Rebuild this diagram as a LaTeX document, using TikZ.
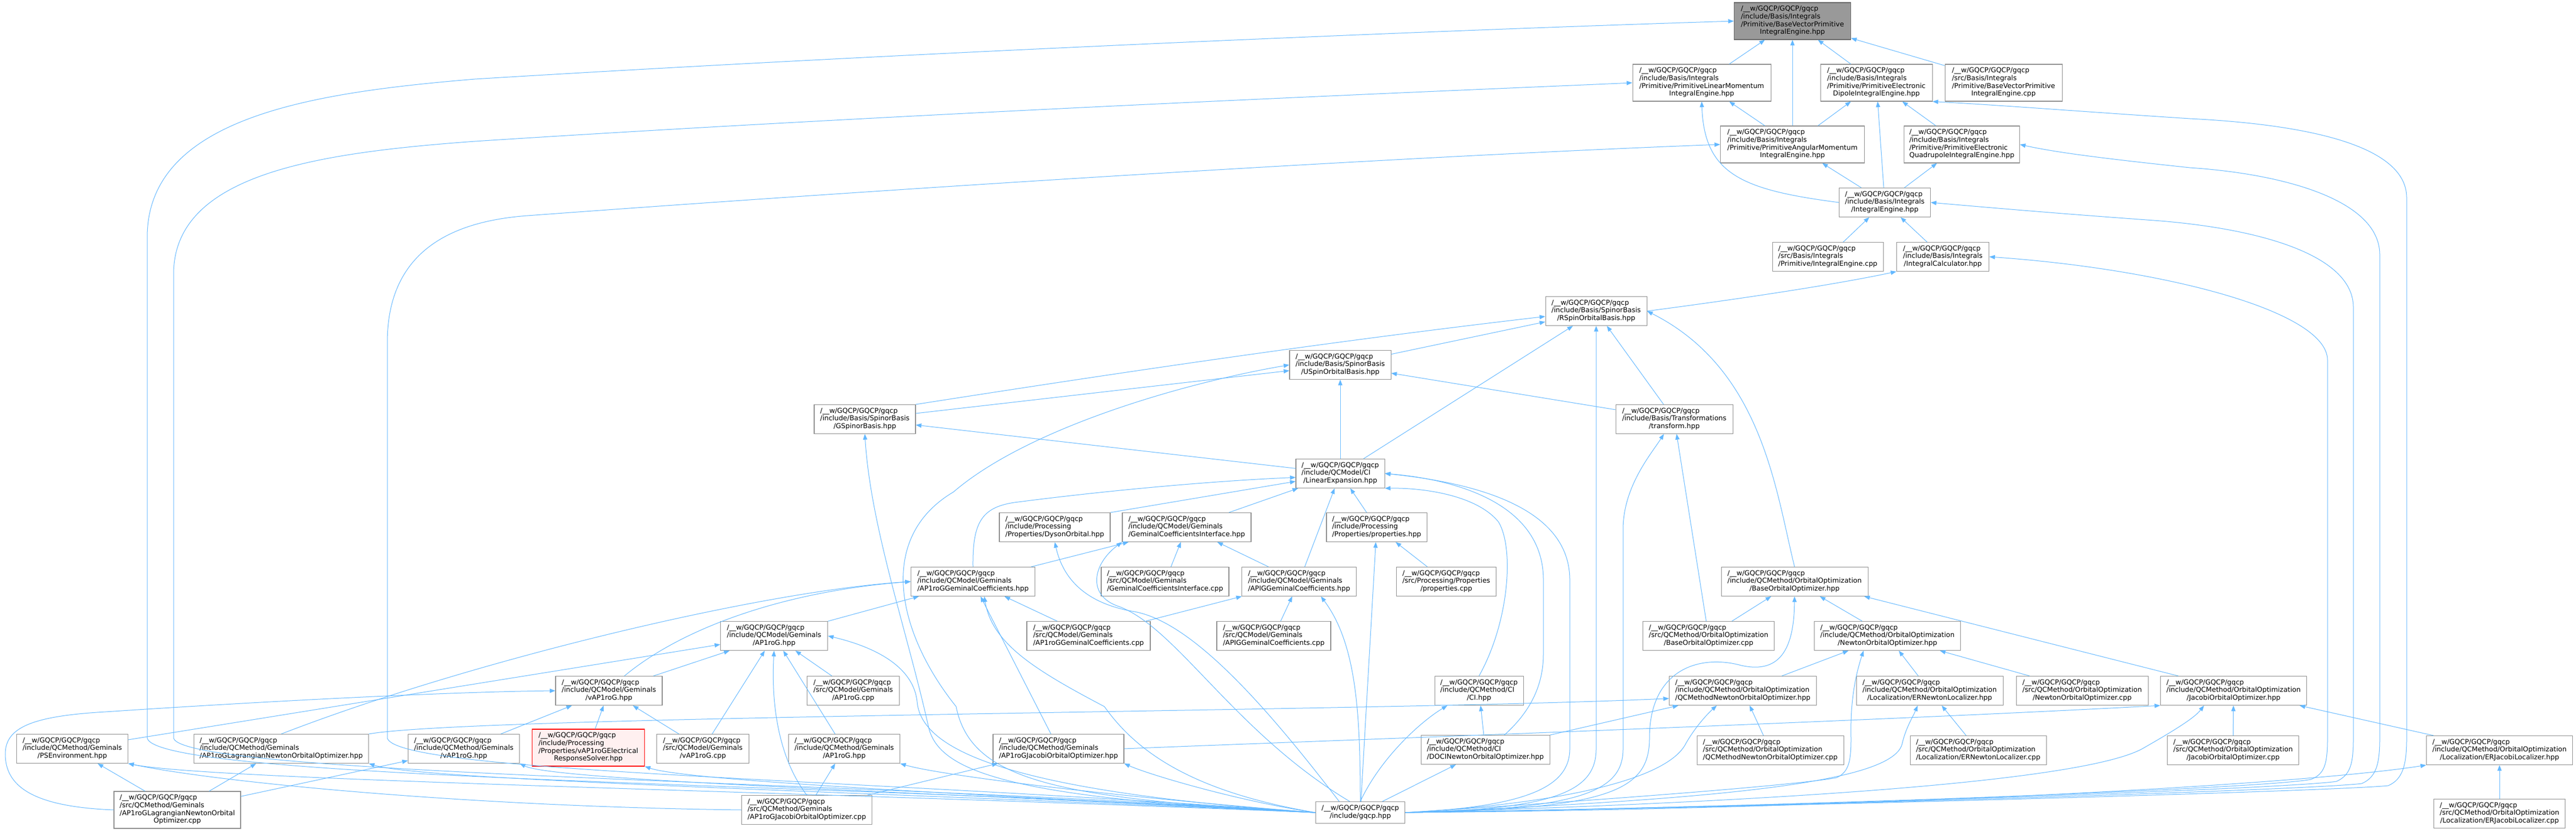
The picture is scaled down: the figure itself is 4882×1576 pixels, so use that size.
\documentclass[tikz,border=0pt]{standalone}
\usepackage{fontspec}
\setmainfont{DejaVu Sans}
\usetikzlibrary{arrows.meta}
\definecolor{edgeblue}{HTML}{63B8FF}
\definecolor{boxline}{HTML}{8C8C8C}
\definecolor{hitfill}{HTML}{999999}
\definecolor{hitline}{HTML}{666666}
\definecolor{hotline}{HTML}{FF0000}
\definecolor{hotfill}{HTML}{FFF0F0}
\newcommand{\gqp}{/\_\_w/GQCP/GQCP/gqcp}
\newcommand{\flab}[2]{\begin{tabular}{@{}l@{}}#1\\\multicolumn{1}{@{}c@{}}{#2}\end{tabular}}
\tikzset{
    fbox/.style={draw=boxline, line width=0.8pt, fill=white, inner xsep=3pt, inner ysep=1pt, minimum height=41.25pt, font=\fontsize{9.7}{11}\selectfont},
    fourline/.style={minimum height=52.5pt},
    twoline/.style={minimum height=30.75pt},
    boxw/.style={minimum width=#1*0.75pt},
    hitbox/.style={fill=hitfill, draw=hitline},
    hotbox/.style={fill=hotfill, draw=hotline},
    inc/.style={draw=edgeblue, line width=0.75pt, -{Triangle[length=8pt,width=6pt]}}
}
\begin{document}
\begin{tikzpicture}[x=0.75pt, y=-0.75pt]
        \fill[white] (0,0) rectangle (4882,1576);
        \useasboundingbox (0,0) rectangle (4882,1576);

        \node[fbox, boxw=221, fourline, hitbox] (nBaseVec) at (3397,40) {\flab{\gqp\\/include/Basis/Integrals\\/Primitive/BaseVectorPrimitive}{IntegralEngine.hpp}};
        \node[fbox, boxw=262, fourline] (nLinMom) at (3225,157) {\flab{\gqp\\/include/Basis/Integrals\\/Primitive/PrimitiveLinearMomentum}{IntegralEngine.hpp}};
        \node[fbox, boxw=212, fourline] (nDipole) at (3556,157) {\flab{\gqp\\/include/Basis/Integrals\\/Primitive/PrimitiveElectronic}{DipoleIntegralEngine.hpp}};
        \node[fbox, boxw=222, fourline] (nBaseVecCpp) at (3797,157) {\flab{\gqp\\/src/Basis/Integrals\\/Primitive/BaseVectorPrimitive}{IntegralEngine.cpp}};
        \node[fbox, boxw=273, fourline] (nAngMom) at (3397,274) {\flab{\gqp\\/include/Basis/Integrals\\/Primitive/PrimitiveAngularMomentum}{IntegralEngine.hpp}};
        \node[fbox, boxw=219, fourline] (nQuad) at (3718,274) {\flab{\gqp\\/include/Basis/Integrals\\/Primitive/PrimitiveElectronic}{QuadrupoleIntegralEngine.hpp}};
        \node[fbox, boxw=173] (nIntEng) at (3572,384) {\flab{\gqp\\/include/Basis/Integrals}{/IntegralEngine.hpp}};
        \node[fbox, boxw=210] (nIntEngCpp) at (3464,487) {\flab{\gqp\\/src/Basis/Integrals}{/Primitive/IntegralEngine.cpp}};
        \node[fbox, boxw=175] (nIntCalc) at (3682,487) {\flab{\gqp\\/include/Basis/Integrals}{/IntegralCalculator.hpp}};

        \node[fbox, boxw=192] (nRSpin) at (3025,590) {\flab{\gqp\\/include/Basis/SpinorBasis}{/RSpinOrbitalBasis.hpp}};
        \node[fbox, boxw=192] (nUSpin) at (2540,692) {\flab{\gqp\\/include/Basis/SpinorBasis}{/USpinOrbitalBasis.hpp}};
        \node[fbox, boxw=192] (nGSpinor) at (1639,795) {\flab{\gqp\\/include/Basis/SpinorBasis}{/GSpinorBasis.hpp}};
        \node[fbox, boxw=222] (nTransform) at (3173,795) {\flab{\gqp\\/include/Basis/Transformations}{/transform.hpp}};
        \node[fbox, boxw=168] (nLinExp) at (2540,898) {\flab{\gqp\\/include/QCModel/CI}{/LinearExpansion.hpp}};

        \node[fbox, boxw=210] (nDyson) at (1999,1000) {\flab{\gqp\\/include/Processing}{/Properties/DysonOrbital.hpp}};
        \node[fbox, boxw=244] (nGCI) at (2249,1000) {\flab{\gqp\\/include/QCModel/Geminals}{/GeminalCoefficientsInterface.hpp}};
        \node[fbox, boxw=190] (nPropH) at (2609,1000) {\flab{\gqp\\/include/Processing}{/Properties/properties.hpp}};

        \node[fbox, boxw=235] (nAPGC) at (1844,1103) {\flab{\gqp\\/include/QCModel/Geminals}{/AP1roGGeminalCoefficients.hpp}};
        \node[fbox, boxw=242] (nGCICpp) at (2208,1103) {\flab{\gqp\\/src/QCModel/Geminals}{/GeminalCoefficientsInterface.cpp}};
        \node[fbox, boxw=217] (nAPIG) at (2462,1103) {\flab{\gqp\\/include/QCModel/Geminals}{/APIGGeminalCoefficients.hpp}};
        \node[fbox, boxw=189] (nPropCpp) at (2741,1103) {\flab{\gqp\\/src/Processing/Properties}{/properties.cpp}};
        \node[fbox, boxw=278] (nBaseOO) at (3401,1103) {\flab{\gqp\\/include/QCMethod/OrbitalOptimization}{/BaseOrbitalOptimizer.hpp}};

        \node[fbox, boxw=203] (nAP1roG) at (1467,1206) {\flab{\gqp\\/include/QCModel/Geminals}{/AP1roG.hpp}};
        \node[fbox, boxw=234] (nAPGCCpp) at (2063,1206) {\flab{\gqp\\/src/QCModel/Geminals}{/AP1roGGeminalCoefficients.cpp}};
        \node[fbox, boxw=216] (nAPIGCpp) at (2414,1206) {\flab{\gqp\\/src/QCModel/Geminals}{/APIGGeminalCoefficients.cpp}};
        \node[fbox, boxw=249] (nBaseOOCpp) at (3238,1206) {\flab{\gqp\\/src/QCMethod/OrbitalOptimization}{/BaseOrbitalOptimizer.cpp}};
        \node[fbox, boxw=277] (nNewtonOO) at (3577,1206) {\flab{\gqp\\/include/QCMethod/OrbitalOptimization}{/NewtonOrbitalOptimizer.hpp}};

        \node[fbox, boxw=202] (nvAP1roG) at (1154,1310) {\flab{\gqp\\/include/QCModel/Geminals}{/vAP1roG.hpp}};
        \node[fbox, boxw=175] (nAP1roGCpp) at (1617,1310) {\flab{\gqp\\/src/QCModel/Geminals}{/AP1roG.cpp}};
        \node[fbox, boxw=168] (nCI) at (2803,1310) {\flab{\gqp\\/include/QCMethod/CI}{/CI.hpp}};
        \node[fbox, boxw=279] (nQCMNewton) at (3303,1310) {\flab{\gqp\\/include/QCMethod/OrbitalOptimization}{/QCMethodNewtonOrbitalOptimizer.hpp}};
        \node[fbox, boxw=278] (nERNewton) at (3657,1310) {\flab{\gqp\\/include/QCMethod/OrbitalOptimization}{/Localization/ERNewtonLocalizer.hpp}};
        \node[fbox, boxw=250] (nNewtonCpp) at (3946,1310) {\flab{\gqp\\/src/QCMethod/OrbitalOptimization}{/NewtonOrbitalOptimizer.cpp}};
        \node[fbox, boxw=277] (nJacobi) at (4233,1310) {\flab{\gqp\\/include/QCMethod/OrbitalOptimization}{/JacobiOrbitalOptimizer.hpp}};

        \node[fbox, boxw=211] (nPSEnv) at (137,1420) {\flab{\gqp\\/include/QCMethod/Geminals}{/PSEnvironment.hpp}};
        \node[fbox, boxw=331] (nLagr) at (533,1420) {\flab{\gqp\\/include/QCMethod/Geminals}{/AP1roGLagrangianNewtonOrbitalOptimizer.hpp}};
        \node[fbox, boxw=211] (nvAP1roGM) at (879,1420) {\flab{\gqp\\/include/QCMethod/Geminals}{/vAP1roG.hpp}};
        \node[fbox, boxw=213, fourline, hotbox] (nResp) at (1115,1418) {\flab{\gqp\\/include/Processing\\/Properties/vAP1roGElectrical}{ResponseSolver.hpp}};
        \node[fbox, boxw=175] (nvAP1roGCpp) at (1332,1420) {\flab{\gqp\\/src/QCModel/Geminals}{/vAP1roG.cpp}};
        \node[fbox, boxw=211] (nAP1roGM) at (1600,1420) {\flab{\gqp\\/include/QCMethod/Geminals}{/AP1roG.hpp}};
        \node[fbox, boxw=248] (nAPJac) at (2006,1420) {\flab{\gqp\\/include/QCMethod/Geminals}{/AP1roGJacobiOrbitalOptimizer.hpp}};
        \node[fbox, boxw=244] (nDOCI) at (2815,1422) {\flab{\gqp\\/include/QCMethod/CI}{/DOCINewtonOrbitalOptimizer.hpp}};
        \node[fbox, boxw=278] (nQCMNewtonCpp) at (3355,1423) {\flab{\gqp\\/src/QCMethod/OrbitalOptimization}{/QCMethodNewtonOrbitalOptimizer.cpp}};
        \node[fbox, boxw=258] (nERNewtonCpp) at (3749,1423) {\flab{\gqp\\/src/QCMethod/OrbitalOptimization}{/Localization/ERNewtonLocalizer.cpp}};
        \node[fbox, boxw=249] (nJacobiCpp) at (4232,1423) {\flab{\gqp\\/src/QCMethod/OrbitalOptimization}{/JacobiOrbitalOptimizer.cpp}};
        \node[fbox, boxw=277] (nERJacobi) at (4737,1423) {\flab{\gqp\\/include/QCMethod/OrbitalOptimization}{/Localization/ERJacobiLocalizer.hpp}};

        \node[fbox, boxw=240, fourline] (nLagrCpp) at (336,1536) {\flab{\gqp\\/src/QCMethod/Geminals\\/AP1roGLagrangianNewtonOrbital}{Optimizer.cpp}};
        \node[fbox, boxw=247] (nAPJacCpp) at (1529,1536) {\flab{\gqp\\/src/QCMethod/Geminals}{/AP1roGJacobiOrbitalOptimizer.cpp}};
        \node[fbox, boxw=169, twoline] (nGqcp) at (2578,1541) {\flab{\gqp}{/include/gqcp.hpp}};
        \node[fbox, boxw=249] (nERJacobiCpp) at (4737,1543) {\flab{\gqp\\/src/QCMethod/OrbitalOptimization}{/Localization/ERJacobiLocalizer.cpp}};

        \draw[inc] (nLinMom) -- (nBaseVec);
        \draw[inc] (nAngMom) -- (nBaseVec);
        \draw[inc] (nDipole) -- (nBaseVec);
        \draw[inc] (nBaseVecCpp) -- (nBaseVec);
        \draw[inc] (nAngMom) -- (nLinMom);
        \draw[inc] (nAngMom) -- (nDipole);
        \draw[inc] (nQuad) -- (nDipole);
        \draw[inc] (nIntEng) -- (nDipole);
        \draw[inc] (nIntEng) -- (nAngMom);
        \draw[inc] (nIntEng) -- (nQuad);
        \draw[inc] (nIntEng.west) .. controls (3300,360) and (3230,330) .. (nLinMom.south);
        \draw[inc] (nIntEngCpp) -- (nIntEng);
        \draw[inc] (nIntCalc) -- (nIntEng);
        \draw[inc] (nRSpin.east) .. controls (3350,560) and (3500,535) .. (nIntCalc.south west);

        \draw[inc] (nGSpinor.north east) .. controls (2100,710) and (2500,650) .. (nRSpin.186);
        \draw[inc] (nUSpin) -- (nRSpin);
        \draw[inc] (nLinExp) -- (nRSpin);
        \draw[inc] (nTransform) -- (nRSpin);
        \draw[inc] (nBaseOO.north) .. controls (3365,930) and (3340,700) .. (nRSpin.east);
        \draw[inc] (nGSpinor) -- (nUSpin);
        \draw[inc] (nLinExp) -- (nUSpin);
        \draw[inc] (nTransform) -- (nUSpin);
        \draw[inc] (nLinExp) -- (nGSpinor);
        \draw[inc] (nBaseOOCpp) -- (nTransform);

        \draw[inc] (nGCI) -- (nLinExp);
        \draw[inc] (nAPIG) -- (nLinExp);
        \draw[inc] (nPropH) -- (nLinExp);
        \draw[inc] (nAPGC.north) .. controls (1843,990) and (1860,960) .. (1930,952) .. controls (2100,930) and (2300,912) .. (nLinExp.185);
        \draw[inc] (nDyson.north east) -- (nLinExp.190);
        \draw[inc] (nCI.north) .. controls (2860,1180) and (2870,1040) .. (2840,990) .. controls (2800,940) and (2700,925) .. (nLinExp.south east);
        \draw[inc] ([xshift=27pt]nDOCI.north) .. controls (2900,1350) and (2925,1300) .. (2925,1240) -- (2925,1100) .. controls (2925,960) and (2770,910) .. (nLinExp.east);

        \draw[inc] (nAPGC) -- (nGCI);
        \draw[inc] (nGCICpp) -- (nGCI);
        \draw[inc] (nAPIG) -- (nGCI);
        \draw[inc] (nPropCpp) -- (nPropH);
        \draw[inc] (nAPGCCpp) -- (nAPIG);
        \draw[inc] (nAPIGCpp) -- (nAPIG);
        \draw[inc] (nLagr.north) .. controls (900,1250) and (1450,1120) .. (nAPGC.west);
        \draw[inc] ([xshift=22pt]nvAP1roG.north) .. controls (1300,1185) and (1500,1120) .. (nAPGC.west);
        \draw[inc] (nAP1roG) -- (nAPGC);
        \draw[inc] (nAPJac) -- (nAPGC);
        \draw[inc] (nAPGCCpp) -- (nAPGC);

        \draw[inc] (nNewtonOO) -- (nBaseOO);
        \draw[inc] (nBaseOOCpp) -- (nBaseOO);
        \draw[inc] (nJacobi.165) -- (nBaseOO.-12);

        \draw[inc] (nPSEnv) -- (nAP1roG);
        \draw[inc] (nvAP1roG) -- (nAP1roG);
        \draw[inc] (nvAP1roGCpp) -- (nAP1roG);
        \draw[inc] (nAPJacCpp.north) .. controls (1470,1430) and (1462,1320) .. (nAP1roG.south);
        \draw[inc] (nAP1roGM) -- (nAP1roG);
        \draw[inc] (nAP1roGCpp) -- (nAP1roG);

        \draw[inc] (nQCMNewton) -- (nNewtonOO);
        \draw[inc] (nERNewton) -- (nNewtonOO);
        \draw[inc] (nNewtonCpp) -- (nNewtonOO);

        \draw[inc] (nLagrCpp.west) .. controls (60,1530) and (10,1490) .. (10,1430) .. controls (10,1380) and (60,1358) .. (200,1350) .. controls (500,1330) and (850,1312) .. (nvAP1roG.west);
        \draw[inc] (nvAP1roGM) -- (nvAP1roG);
        \draw[inc] (nResp) -- (nvAP1roG);
        \draw[inc] (nvAP1roGCpp) -- (nvAP1roG);
        \draw[inc] (nDOCI) -- (nCI);
        \draw[inc] (nLagr.north east) .. controls (900,1357) and (2600,1350) .. (nQCMNewton.186);
        \draw[inc] (nDOCI) -- (nQCMNewton);
        \draw[inc] (nQCMNewtonCpp) -- (nQCMNewton);
        \draw[inc] (nERNewtonCpp) -- (nERNewton);
        \draw[inc] (nAPJac.east) .. controls (2500,1405) and (3500,1370) .. (nJacobi.south west);
        \draw[inc] (nJacobiCpp) -- (nJacobi);
        \draw[inc] (nERJacobi) -- (nJacobi);

        \draw[inc] (nLagrCpp) -- (nPSEnv);
        \draw[inc] (nAPJacCpp.west) .. controls (900,1530) and (420,1485) .. (nPSEnv.south east);
        \draw[inc] (nLagrCpp) -- (nLagr);
        \draw[inc] (nLagrCpp) -- (nvAP1roGM);
        \draw[inc] (nAPJacCpp) -- (nAP1roGM);
        \draw[inc] (nAPJacCpp) -- (nAPJac);
        \draw[inc] (nERJacobiCpp) -- (nERJacobi);

        \draw[inc] (nGqcp.west) .. controls (1600,1485) and (300,1480) .. (279,1400) -- (279,450) .. controls (279,220) and (600,175) .. (900,150) .. controls (1800,95) and (2800,55) .. (nBaseVec.west);
        \draw[inc] (nGqcp.west) .. controls (1600,1480) and (350,1470) .. (329,1400) -- (329,520) .. controls (329,330) and (600,290) .. (900,268) .. controls (1800,210) and (2800,170) .. (nLinMom.west);
        \draw[inc] (nGqcp.west) .. controls (1600,1475) and (755,1465) .. (734,1400) -- (734,650) .. controls (734,480) and (850,420) .. (1000,409) .. controls (1800,350) and (2700,295) .. (nAngMom.west);
        \draw[inc] (nGqcp.east) .. controls (3400,1530) and (4431,1500) .. (4526,1490) .. controls (4554,1478) and (4561,1450) .. (4561,1400) -- (4561,375) .. controls (4561,270) and (4350,235) .. (4150,225) .. controls (3950,212) and (3800,200) .. (nDipole.south east);
        \draw[inc] (nGqcp.east) .. controls (3400,1530) and (4380,1498) .. (4476,1486) .. controls (4503,1474) and (4510,1450) .. (4510,1400) -- (4510,483) .. controls (4510,380) and (4330,330) .. (4150,318) .. controls (4000,302) and (3900,290) .. (nQuad.east);
        \draw[inc] (nGqcp.east) .. controls (3400,1530) and (4330,1496) .. (4428,1482) .. controls (4454,1470) and (4460,1450) .. (4460,1400) -- (4460,583) .. controls (4460,480) and (4270,432) .. (4082,418) .. controls (3900,405) and (3750,392) .. (nIntEng.east);
        \draw[inc] (nGqcp.east) .. controls (3400,1530) and (4300,1495) .. (4380,1478) .. controls (4405,1468) and (4411,1450) .. (4411,1400) -- (4411,683) .. controls (4411,590) and (4100,510) .. (nIntCalc.east);
        \draw[inc] (nGqcp.east) .. controls (2950,1535) and (3025,1500) .. (3025,1420) -- (nRSpin.south);
        \draw[inc] (nGqcp.east) .. controls (3000,1535) and (3076,1500) .. (3076,1420) -- (3076,1000) .. controls (3078,920) and (3130,860) .. (nTransform.235);
        \draw[inc] (nGqcp.east) .. controls (2900,1530) and (2975,1490) .. (2975,1420) -- (2975,1100) .. controls (2975,960) and (2790,915) .. (nLinExp.east);
        \draw[inc] (nGqcp.east) .. controls (3050,1535) and (3126,1500) .. (3126,1400) .. controls (3126,1270) and (3220,1240) .. (3300,1262) .. controls (3380,1280) and (3400,1220) .. (nBaseOO.south);
        \draw[inc] (nGqcp.east) .. controls (3000,1520) and (3400,1490) .. (3480,1475) .. controls (3505,1465) and (3508,1440) .. (3508,1400) .. controls (3506,1320) and (3520,1270) .. ([xshift=-34pt]nNewtonOO.south);
        \draw[inc] (nGqcp.east) .. controls (2950,1525) and (3160,1480) .. (3195,1410) .. controls (3215,1375) and (3240,1350) .. ([xshift=-37pt]nQCMNewton.south);
        \draw[inc] (nGqcp.east) .. controls (3300,1515) and (3590,1480) .. (3605,1410) .. controls (3612,1380) and (3625,1360) .. ([xshift=-17pt]nERNewton.south);
        \draw[inc] (nGqcp.east) .. controls (3400,1520) and (3950,1480) .. (4060,1420) .. controls (4130,1380) and (4160,1360) .. ([xshift=-42pt]nJacobi.south);
        \draw[inc] (nGqcp.east) .. controls (3500,1535) and (4350,1490) .. (nERJacobi.south west);

        \draw[inc] (nGqcp.west) .. controls (1500,1500) and (400,1480) .. (nPSEnv.south east);
        \draw[inc] (nGqcp.west) .. controls (1600,1500) and (800,1480) .. (nLagr.south east);
        \draw[inc] (nGqcp.west) .. controls (1700,1500) and (1050,1480) .. (nvAP1roGM.south east);
        \draw[inc] (nGqcp.west) .. controls (1800,1505) and (1300,1480) .. (nResp.south east);
        \draw[inc] (nGqcp.west) .. controls (2100,1510) and (1780,1470) .. (nAP1roGM.south east);
        \draw[inc] (nGqcp.west) .. controls (2350,1520) and (2180,1470) .. (nAPJac.south east);
        \draw[inc] (nGqcp.west) .. controls (1900,1500) and (1745,1420) .. (1738,1330) .. controls (1730,1260) and (1650,1225) .. (nAP1roG.east);
        \draw[inc] (nGqcp.west) .. controls (2250,1500) and (2150,1420) .. (2093,1340) .. controls (1960,1270) and (1880,1220) .. ([xshift=16pt]nAPGC.south);
        \draw[inc] (nGqcp.west) .. controls (1900,1515) and (1780,1460) .. (1760,1380) .. controls (1720,1200) and (1650,1000) .. (nGSpinor.south);
        \draw[inc] (nGqcp.west) .. controls (2000,1515) and (1840,1480) .. (1812,1340) .. controls (1700,1200) and (1660,1020) .. (1807,933) .. controls (1950,810) and (2250,725) .. (nUSpin.west);
        \draw[inc] ([xshift=-30pt]nGqcp.north) .. controls (2400,1340) and (2260,1180) .. (2150,1160) .. controls (2060,1145) and (2015,1100) .. (nDyson.south);
        \draw[inc] ([xshift=-15pt]nGqcp.north) .. controls (2340,1390) and (2230,1190) .. (2120,1150) .. controls (2060,1130) and (2070,1070) .. (nGCI.south west);
        \draw[inc] (nGqcp.north) .. controls (2578,1350) and (2570,1220) .. ([xshift=31pt]nAPIG.south);
        \draw[inc] (nGqcp) -- (nPropH);
        \draw[inc] (nGqcp.north) .. controls (2615,1440) and (2690,1370) .. ([xshift=-45pt]nCI.south);
        \draw[inc] (nGqcp) -- (nDOCI);
\end{tikzpicture}
\end{document}
